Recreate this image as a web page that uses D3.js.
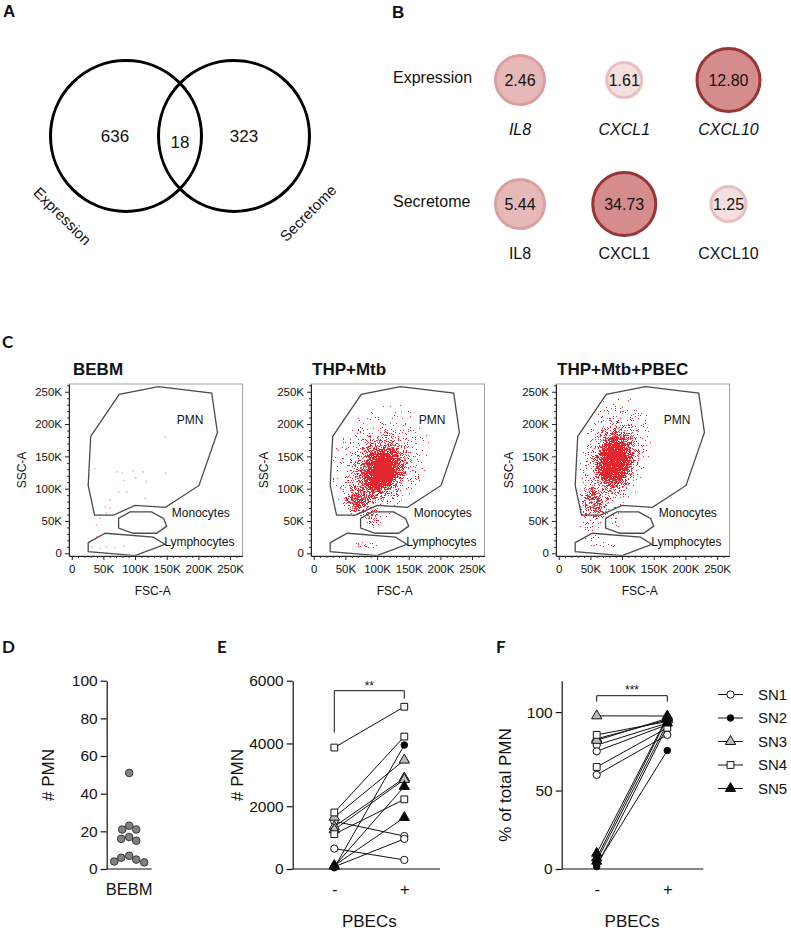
<!DOCTYPE html>
<html><head><meta charset="utf-8">
<script src="https://cdn.jsdelivr.net/npm/d3@7"></script>
<style>
body{margin:0;background:#fff}
svg{display:block}
text{font-family:"Liberation Sans",Arial,sans-serif;fill:#111}
</style>
</head><body>
<svg id="c" width="791" height="937"></svg>
<script>
// ---------------- DATA ----------------
// Panel A (Venn)
const vennSets = ["Expression", "Secretome"];
const vennOnlyLeft = 636, vennShared = 18, vennOnlyRight = 323;

// Panel B (fold changes)
const bRows = ["Expression", "Secretome"];
const bGenes = ["IL8", "CXCL1", "CXCL10"];
const bExpression = [2.46, 1.61, 12.80];
const bSecretome = [5.44, 34.73, 1.25];

// Panel C (flow cytometry)
const flowTitles = ["BEBM", "THP+Mtb", "THP+Mtb+PBEC"];
const flowTicks = [0, 50000, 100000, 150000, 200000, 250000];
const flowTickLabels = ["0", "50K", "100K", "150K", "200K", "250K"];
const flowMinorTicks = [10000,20000,30000,40000,60000,70000,80000,90000,110000,120000,130000,140000,160000,170000,180000,190000,210000,220000,230000,240000,260000];
// gates, in thousands (FSC, SSC)
const gatePMN = [[30,181],[75,246],[137,258],[221,248],[230,187],[201,105],[148,71],[100,74],[66,59],[36,59],[26,105]];
const gateMono = [[74,54],[92,64],[126,64],[145,54],[150,42],[134,31],[97,31],[74,39]];
const gateLymph = [[26,16.5],[53,31],[129,25],[147,14],[100,-3.6],[26,2.6]];
const gateNames = ["PMN", "Monocytes", "Lymphocytes"];
const gateLabelPos = [[187,207],[158,63],[146,18]];
// BEBM events (thousands)
const bebmEvents = [[148,180],[97,128],[113,126],[148,124],[71,126],[79,124],[82,113],[118,111],[74,95],[87,95],[116,85],[36,131],[53,72],[55,62],[45,54],[39,44],[32,10],[45,8],[55,10],[68,9],[82,11],[39,26],[61,82],[101,117],[60,70]];
// event-density regions: [cxK, cyK, rxK, ryK, tiltDeg, density]
const flowClouds = [
  [],
  [
    [[105,142,80,98,25,0.27],[105,137,60,76,25,0.33],[105,133,44,56,25,0.43],[106,130,30,40,25,0.56],[108,128,20,28,25,0.76]],
    [[80,13,28,7,0,0.52]],
    [[93,48,18,11,0,0.38]],
    [[68,78,22,18,0,0.32]]
  ],
  [
    [[88,154,62,100,12,0.27],[88,150,48,80,12,0.33],[88,147,36,60,12,0.43],[88,145,26,43,12,0.56],[88,142,17,30,12,0.76]],
    [[50,62,23,40,0,0.34]],
    [[75,14,33,8,0,0.46]],
    [[95,48,19,11,0,0.37]]
  ]
];

// Panel D
const dCategory = ["BEBM"];
const dValues = [51, 23, 21, 21, 17, 16, 15, 7, 6, 5, 4, 3.5];
const dTicks = [0, 20, 40, 60, 80, 100];

// Panel E / F
const pbecLevels = ["-", "+"];
const seriesNames = ["SN1", "SN2", "SN3", "SN4", "SN5"];
const eSeries = ["SN1","SN1","SN1","SN2","SN3","SN3","SN3","SN4","SN4","SN4","SN5","SN5"];
const eMinus  = [1520, 650, 70, 40, 1650, 1350, 1250, 3870, 1800, 1110, 90, 110];
const ePlus   = [1050, 290, 960, 3950, 3470, 2900, 2850, 5170, 4220, 2220, 2630, 1640];
const eTicks = [0, 2000, 4000, 6000];
const fSeries = ["SN1","SN1","SN1","SN2","SN2","SN3","SN3","SN3","SN4","SN4","SN5","SN5","SN5"];
const fMinus  = [79, 75, 60, 3, 1.5, 97.6, 83, 82, 85.5, 65, 10, 7, 5];
const fPlus   = [93, 92, 85.5, 75.5, 91, 97.5, 95, 96, 94, 90, 97, 96, 93];
const fTicks = [0, 50, 100];

// ---------------- DRAWING ----------------
const svg = d3.select("#c");
const defs = svg.append("defs");

// speckle filter: density map -> scattered red events
const flt = defs.append("filter").attr("id","speck")
  .attr("x","-20%").attr("y","-20%").attr("width","140%").attr("height","140%")
  .attr("color-interpolation-filters","sRGB");
flt.append("feGaussianBlur").attr("in","SourceGraphic").attr("stdDeviation",4).attr("result","d");
flt.append("feTurbulence").attr("type","fractalNoise").attr("baseFrequency",1.4).attr("numOctaves",2).attr("seed",5).attr("result","n");
flt.append("feComposite").attr("in","d").attr("in2","n").attr("operator","arithmetic")
  .attr("k1",0).attr("k2",1).attr("k3",-1).attr("k4",0.5).attr("result","diff");
const ct = flt.append("feComponentTransfer").attr("in","diff").attr("result","bin");
ct.append("feFuncA").attr("type","discrete").attr("tableValues","0 1");
flt.append("feFlood").attr("flood-color","#e0101a").attr("flood-opacity",0.9).attr("result","red");
flt.append("feComposite").attr("in","red").attr("in2","bin").attr("operator","in");

// panel letters
const letters = [
  {t:"A", x:3, y:17, f:"'Liberation Sans',Arial"},
  {t:"B", x:392, y:18, f:"'Liberation Sans',Arial"},
  {t:"C", x:2, y:348, f:"Lato,'Open Sans'"},
  {t:"D", x:2, y:653, f:"Lato,'Open Sans'"},
  {t:"E", x:217, y:653, f:"Lato,'Open Sans'"},
  {t:"F", x:496, y:653, f:"Lato,'Open Sans'"}
];
svg.selectAll("text.letter").data(letters).join("text").attr("class","letter")
  .attr("x",d=>d.x).attr("y",d=>d.y).style("font-family",d=>d.f)
  .attr("font-size",17).attr("font-weight","bold").text(d=>d.t);

// ---- Panel A ----
(function(){
  const g = svg.append("g");
  const vx = d3.scalePoint().domain(vennSets).range([126, 234]);
  const cy = 136, r = 75.5;
  g.selectAll("circle").data(vennSets).join("circle")
    .attr("cx", d=>vx(d)).attr("cy", cy).attr("r", r)
    .attr("fill","none").attr("stroke","#000").attr("stroke-width",3);
  const mid = (vx(vennSets[0]) + vx(vennSets[1]))/2;
  const counts = [
    {v:vennOnlyLeft, x:vx(vennSets[0])-11, y:cy},
    {v:vennShared, x:mid, y:cy+6},
    {v:vennOnlyRight, x:vx(vennSets[1])+10, y:cy}
  ];
  g.selectAll("text.cnt").data(counts).join("text").attr("class","cnt")
    .attr("x",d=>d.x).attr("y",d=>d.y).attr("dy","0.36em")
    .attr("text-anchor","middle").attr("font-size",17).text(d=>d.v);
  const labs = [
    {t:vennSets[0], x:vx(vennSets[0])-63.5, y:cy+80, a:45},
    {t:vennSets[1], x:vx(vennSets[1])+74, y:cy+77, a:-45}
  ];
  g.selectAll("text.set").data(labs).join("text").attr("class","set")
    .attr("transform",d=>`translate(${d.x},${d.y}) rotate(${d.a})`)
    .attr("text-anchor","middle").attr("dy","0.36em").attr("font-size",15).text(d=>d.t);
})();

// ---- Panel B ----
(function(){
  const g = svg.append("g");
  const bx = d3.scalePoint().domain(bGenes).range([520, 728.5]);
  const by = d3.scalePoint().domain(bRows).range([80, 204]);
  const rS = d3.scaleThreshold().domain([2,10]).range([17.5, 24.5, 31.5]);
  const fillS = d3.scaleThreshold().domain([2,10]).range(["#f4dede","#e7b8b8","#d58c8c"]);
  const strokeS = d3.scaleThreshold().domain([2,10]).range(["#e9c0c0","#dc9f9f","#993434"]);
  const cells = [];
  bRows.forEach((row, ri) => {
    const vals = ri === 0 ? bExpression : bSecretome;
    bGenes.forEach((gene, gi) => cells.push({row, gene, v: vals[gi], italic: ri === 0}));
  });
  g.selectAll("circle").data(cells).join("circle")
    .attr("cx", d=>bx(d.gene)).attr("cy", d=>by(d.row)).attr("r", d=>rS(d.v))
    .attr("fill", d=>fillS(d.v)).attr("stroke", d=>strokeS(d.v)).attr("stroke-width",3);
  g.selectAll("text.val").data(cells).join("text").attr("class","val")
    .attr("x", d=>bx(d.gene)).attr("y", d=>by(d.row)).attr("dy","0.36em")
    .attr("text-anchor","middle").attr("font-size",16).text(d=>d.v.toFixed(2));
  g.selectAll("text.gene").data(cells).join("text").attr("class","gene")
    .attr("x", d=>bx(d.gene)).attr("y", d=>by(d.row)+54.5)
    .attr("text-anchor","middle").attr("font-size",16)
    .attr("font-style", d=>d.italic ? "italic" : "normal").text(d=>d.gene);
  g.selectAll("text.row").data(bRows).join("text").attr("class","row")
    .attr("x", 393).attr("y", d=>by(d)+2.5).attr("font-size",16).text(d=>d);
})();

// ---- Panel C ----
const flowLefts = [69, 311, 556];
flowTitles.forEach((title, i) => {
  const L = flowLefts[i], W = 173.5, T = 384, B = 556;
  const g = svg.append("g");
  const x = d3.scaleLinear().domain([-4300, 269600]).range([L, L+W]);
  const y = d3.scaleLinear().domain([-4200, 262000]).range([B, T]);
  const kx = (W) / 273.9, ky = (B-T) / 266.2;

  defs.append("clipPath").attr("id","clip"+i).append("rect")
    .attr("x",L).attr("y",T).attr("width",W).attr("height",B-T);
  const plot = g.append("g").attr("clip-path",`url(#clip${i})`);

  if (flowClouds[i].length) {
    const cg = plot.append("g").attr("filter","url(#speck)");
    cg.append("rect").attr("x",L).attr("y",T).attr("width",W).attr("height",B-T).attr("fill","#000").attr("fill-opacity",0);
    flowClouds[i].forEach(cloud => {
      let prev = 0;
      cloud.forEach(lv => {
        const [cx, cy, rx, ry, rot, t] = lv;
        const a = 1 - (1 - t) / (1 - prev);
        prev = t;
        cg.append("ellipse")
          .attr("transform", `translate(${x(cx*1000)},${y(cy*1000)}) rotate(${rot})`)
          .attr("rx", rx*kx).attr("ry", ry*ky)
          .attr("fill","#000").attr("fill-opacity", a);
      });
    });
  }
  if (i === 0) {
    plot.selectAll("rect.ev").data(bebmEvents).join("rect").attr("class","ev")
      .attr("x", d=>x(d[0]*1000)-0.6).attr("y", d=>y(d[1]*1000)-0.6)
      .attr("width",1.3).attr("height",1.3).attr("fill","#e23a3a").attr("fill-opacity",0.55);
  }

  const line = d3.line().x(d=>x(d[0]*1000)).y(d=>y(d[1]*1000)).curve(d3.curveLinearClosed);
  g.selectAll("path.gate").data([gatePMN, gateMono, gateLymph]).join("path").attr("class","gate")
    .attr("d", line).attr("fill","none").attr("stroke","#4a4a4a").attr("stroke-width",1.3);
  g.selectAll("text.gl").data(gateNames).join("text").attr("class","gl")
    .attr("x",(d,j)=>x(gateLabelPos[j][0]*1000)).attr("y",(d,j)=>y(gateLabelPos[j][1]*1000))
    .attr("dy","0.36em").attr("text-anchor",(d,j)=>j===0?"middle":"start")
    .attr("font-size",12).text(d=>d);

  g.append("rect").attr("x",L).attr("y",T).attr("width",W).attr("height",B-T)
    .attr("fill","none").attr("stroke","#a0a0a0").attr("stroke-width",1);

  const styleAxis = (sel, fs) => {
    sel.attr("font-family",null).attr("font-size",null);
    sel.selectAll("text").attr("font-size",fs).style("fill","#111");
    sel.selectAll("line").attr("stroke","#222");
    sel.select(".domain").attr("stroke","#222");
  };
  const ya = g.append("g").attr("transform",`translate(${L},0)`)
    .call(d3.axisLeft(y).tickValues(flowTicks).tickFormat((d,j)=>flowTickLabels[j]).tickSize(4).tickSizeOuter(0).tickPadding(3));
  styleAxis(ya, 11.5);
  const ym = g.append("g").attr("transform",`translate(${L},0)`)
    .call(d3.axisLeft(y).tickValues(flowMinorTicks).tickFormat("").tickSize(2).tickSizeOuter(0));
  ym.select(".domain").remove(); ym.selectAll("line").attr("stroke","#333");
  const xa = g.append("g").attr("transform",`translate(0,${B})`)
    .call(d3.axisBottom(x).tickValues(flowTicks).tickFormat((d,j)=>flowTickLabels[j]).tickSize(4).tickSizeOuter(0).tickPadding(5));
  styleAxis(xa, 11.5);
  const xm = g.append("g").attr("transform",`translate(0,${B})`)
    .call(d3.axisBottom(x).tickValues(flowMinorTicks).tickFormat("").tickSize(2).tickSizeOuter(0));
  xm.select(".domain").remove(); xm.selectAll("line").attr("stroke","#333");

  g.append("text").attr("x", L + (i===0?4:1)).attr("y", 375)
    .attr("font-size",17).attr("font-weight","bold").text(title);
  g.append("text").attr("transform",`translate(${L-43},470) rotate(-90)`)
    .attr("text-anchor","middle").attr("font-size",12).text("SSC-A");
  g.append("text").attr("x", L+W/2-3).attr("y",595)
    .attr("text-anchor","middle").attr("font-size",12).text("FSC-A");
});

// ---- shared helpers for D/E/F ----
function leftAxis(g, scale, ticks, X) {
  const a = g.append("g").attr("transform",`translate(${X},0)`)
    .call(d3.axisLeft(scale).tickValues(ticks).tickFormat(d3.format("d")).tickSize(6).tickSizeOuter(0).tickPadding(3));
  a.attr("font-family",null).attr("font-size",null);
  a.selectAll("text").attr("font-size",15.5).style("fill","#111");
  a.selectAll("line").attr("stroke","#111").attr("stroke-width",1.2);
  a.select(".domain").attr("stroke","#111").attr("stroke-width",1.2);
  return a;
}
function bottomAxis(g, scale, x0, x1, Y) {
  g.append("line").attr("x1",x0).attr("x2",x1).attr("y1",Y).attr("y2",Y).attr("stroke","#111").attr("stroke-width",1.2);
  const a = g.append("g").attr("transform",`translate(0,${Y})`)
    .call(d3.axisBottom(scale).tickSize(0).tickPadding(14));
  a.attr("font-family",null).attr("font-size",null);
  a.select(".domain").remove();
  a.selectAll("text").attr("font-size",16.5).style("fill","#111");
  return a;
}
function yTitle(g, t, x, y) {
  g.append("text").attr("transform",`translate(${x},${y}) rotate(-90)`)
    .attr("text-anchor","middle").attr("font-size",17).text(t);
}

// ---- Panel D ----
(function(){
  const g = svg.append("g");
  const y = d3.scaleLinear().domain([0,100]).range([869, 680.7]);
  const x = d3.scaleBand().domain(dCategory).range([106.7, 151.7]);
  leftAxis(g, y, dTicks, 106.7);
  bottomAxis(g, x, 106.7, 151.7, 869);
  yTitle(g, "# PMN", 54, 775);
  const r = 3.8, cx = x(dCategory[0]) + x.bandwidth()/2;
  const placed = [];
  const sorted = dValues.slice().sort((a,b)=>b-a);
  sorted.forEach(v => {
    const py = y(v);
    for (let k = 0; k < 60; k++) {
      const off = (k % 2 === 0 ? 1 : -1) * Math.ceil(k/2);
      const px = cx + off;
      if (placed.every(p => Math.hypot(p.x-px, p.y-py) >= 2*r+0.2)) { placed.push({x:px, y:py}); break; }
    }
  });
  g.selectAll("circle").data(placed).join("circle")
    .attr("cx",d=>d.x).attr("cy",d=>d.y).attr("r",r)
    .attr("fill","#808080").attr("stroke","#3a3a3a").attr("stroke-width",1);
})();

// symbol styling
const symType = d3.scaleOrdinal().domain(seriesNames).range([d3.symbolCircle, d3.symbolCircle, d3.symbolTriangle, d3.symbolSquare, d3.symbolTriangle]);
const symFill = d3.scaleOrdinal().domain(seriesNames).range(["#ffffff","#000000","#bdbdbd","#ffffff","#000000"]);
const symSize = d3.scaleOrdinal().domain(seriesNames).range([42, 34, 46, 46, 46]);
const sym = s => d3.symbol().type(symType(s)).size(symSize(s))();

function pairedPanel(g, x, y, series, minus, plus) {
  const pairs = series.map((s,i)=>({s, a:minus[i], b:plus[i]}));
  g.selectAll("line.pair").data(pairs).join("line").attr("class","pair")
    .attr("x1",x(pbecLevels[0])).attr("x2",x(pbecLevels[1]))
    .attr("y1",d=>y(d.a)).attr("y2",d=>y(d.b)).attr("stroke","#111").attr("stroke-width",1);
  const pts = [];
  pairs.forEach(p => { pts.push({s:p.s, lv:pbecLevels[0], v:p.a}); pts.push({s:p.s, lv:pbecLevels[1], v:p.b}); });
  g.selectAll("path.pt").data(pts).join("path").attr("class","pt")
    .attr("transform",d=>`translate(${x(d.lv)},${y(d.v)})`)
    .attr("d",d=>sym(d.s)).attr("fill",d=>symFill(d.s)).attr("stroke","#111").attr("stroke-width",1);
}

// ---- Panel E ----
(function(){
  const g = svg.append("g");
  const y = d3.scaleLinear().domain([0,6000]).range([869, 680.7]);
  const x = d3.scalePoint().domain(pbecLevels).range([334.3, 404.3]);
  leftAxis(g, y, eTicks, 292.7);
  bottomAxis(g, x, 292.7, 440, 869);
  yTitle(g, "# PMN", 243, 775);
  g.append("text").attr("x",369.3).attr("y",927).attr("text-anchor","middle").attr("font-size",17).text("PBECs");
  pairedPanel(g, x, y, eSeries, eMinus, ePlus);
  const top = y(6000) + 10;
  g.append("path").attr("d",`M${x("-")},${y(d3.max(eMinus))-15}V${top}H${x("+")}V${y(d3.max(ePlus))-8}`)
    .attr("fill","none").attr("stroke","#111").attr("stroke-width",1);
  g.append("text").attr("x",(x("-")+x("+"))/2).attr("y",top-0.5).attr("text-anchor","middle").attr("font-size",12).text("**");
})();

// ---- Panel F ----
(function(){
  const g = svg.append("g");
  const y = d3.scaleLinear().domain([0,120]).range([869, 680.7]);
  const x = d3.scalePoint().domain(pbecLevels).range([596.7, 667.3]);
  leftAxis(g, y, fTicks, 561.7);
  bottomAxis(g, x, 561.7, 703.3, 869);
  yTitle(g, "% of total PMN", 511, 785);
  g.append("text").attr("x",632).attr("y",927).attr("text-anchor","middle").attr("font-size",17).text("PBECs");
  pairedPanel(g, x, y, fSeries, fMinus, fPlus);
  const top = y(120) + 15;
  g.append("path").attr("d",`M${x("-")},${top+6}V${top}H${x("+")}V${top+6}`)
    .attr("fill","none").attr("stroke","#111").attr("stroke-width",1);
  g.append("text").attr("x",(x("-")+x("+"))/2).attr("y",top-2).attr("text-anchor","middle").attr("font-size",12).text("***");
  const ly = d3.scalePoint().domain(seriesNames).range([694.5, 788.5]);
  const lg = g.selectAll("g.leg").data(seriesNames).join("g").attr("class","leg")
    .attr("transform",d=>`translate(0,${ly(d)})`);
  lg.append("line").attr("x1",718).attr("x2",743).attr("stroke","#111").attr("stroke-width",1);
  lg.append("path").attr("transform","translate(730.5,0)").attr("d",d=>sym(d))
    .attr("fill",d=>symFill(d)).attr("stroke","#111").attr("stroke-width",1);
  lg.append("text").attr("x",758).attr("dy","0.36em").attr("font-size",15).text(d=>d);
})();
</script>
</body></html>
